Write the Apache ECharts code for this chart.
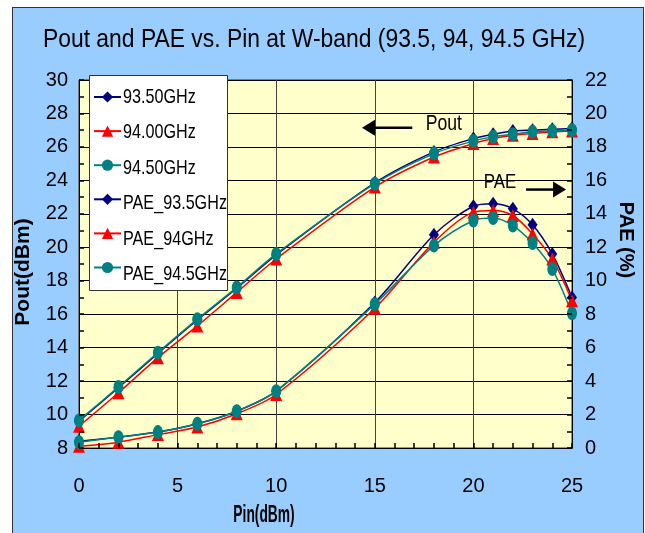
<!DOCTYPE html>
<html><head><meta charset="utf-8">
<script src="https://cdn.jsdelivr.net/npm/echarts@6/dist/echarts.min.js"></script>
<style>
html,body{margin:0;padding:0;background:#fff;}
#wrap{position:relative;width:645px;height:533px;overflow:hidden;}
#frame{position:absolute;left:12px;top:7px;width:630px;height:540px;background:#99CCFF;border:1px solid #333;}
#chart{position:absolute;left:0;top:0;width:645px;height:533px;}
</style></head><body>
<div id="wrap"><div id="frame"></div><div id="chart"></div></div>
<script>
const pin = [0,2,4,6,8,10,15,18,20,21,22,23,24,25];
const pout935 = [9.6,11.6,13.65,15.65,17.55,19.55,23.85,25.7,26.5,26.75,26.95,27.0,27.05,27.1];
const pout940 = [9.3,11.3,13.4,15.3,17.3,19.3,23.6,25.4,26.2,26.5,26.7,26.8,26.9,26.95];
const pout945 = [9.65,11.65,13.7,15.7,17.6,19.6,23.8,25.6,26.35,26.6,26.75,26.9,26.95,27.0];
const pae935 = [0.4,0.65,0.95,1.45,2.2,3.4,8.7,12.75,14.45,14.6,14.3,13.35,11.6,9.0];
const pae940 = [0.1,0.35,0.8,1.25,2.05,3.2,8.35,12.3,14.1,14.2,13.9,12.8,11.3,8.8];
const pae945 = [0.35,0.65,0.95,1.45,2.2,3.4,8.6,12.1,13.6,13.75,13.3,12.25,10.7,8.05];
const seriesNames = ['93.50GHz','94.00GHz','94.50GHz','PAE_93.5GHz','PAE_94GHz','PAE_94.5GHz'];
const titleText = 'Pout and PAE vs. Pin at W-band (93.5, 94, 94.5 GHz)';
const axisNames = {x:'Pin(dBm)', yLeft:'Pout(dBm)', yRight:'PAE (%)'};
const noteLabels = [{label:'Pout', x:18.5, y:27.4, axis:0, size:22},{label:'PAE', x:21.35, y:15.9, axis:1, size:21}];
const noteArrows = [{from:[16.9,27.15], to:[14.35,27.15], axis:0},{from:[22.67,15.45], to:[24.7,15.45], axis:1}];

const REG = "'Liberation Sans',Arial,sans-serif";
const ellipse = 'path://M0,7A5,7 0 1,0 10,7A5,7 0 1,0 0,7Z';
const NAVY='#000080', RED='#FF0000', TEAL='#008080';

function mk(name, vals, color, symbol, size, yAxisIndex){
  return {name, type:'line', yAxisIndex, data: pin.map((x,i)=>[x, vals[i]]),
    smooth:0.3, symbol, symbolSize:size, showSymbol:true, animation:false,
    lineStyle:{color, width:1.5}, itemStyle:{color, borderWidth:0},
    emphasis:{disabled:true}};
}
const chart = echarts.init(document.getElementById('chart'), null, {renderer:'canvas'});
const tickCommon = {show:true, inside:true, length:5, lineStyle:{color:'#000'}};
const minorAxisCommon = {type:'value', z:10, axisLine:{show:false, onZero:false}, axisLabel:{show:false}, splitLine:{show:false},
  axisTick:{show:true, inside:true, length:5, lineStyle:{color:'#000', width:1.5}}, silent:true};
const LEG = {left:93, top:90, itemW:27, itemH:14, gap:21.5};
chart.setOption({
  animation:false,
  backgroundColor:'transparent',
  legend:{orient:'vertical', left:LEG.left, top:LEG.top, padding:0,
    itemWidth:LEG.itemW, itemHeight:LEG.itemH, itemGap:LEG.gap,
    formatter:()=>'', textStyle:{fontSize:1}, selectedMode:false, z:12,
    data:seriesNames},
  grid:{left:79, right:73, top:80, bottom:85, show:true, backgroundColor:'#FFFFCC', borderColor:'#333', borderWidth:1},
  xAxis:[
    {type:'value', min:0, max:25, interval:5,
     axisLine:{show:true, onZero:false, lineStyle:{color:'#000'}},
     axisTick:tickCommon,
     splitLine:{show:true, lineStyle:{color:'#444', width:1}},
     axisLabel:{margin:28, fontFamily:REG, fontSize:20, color:'#000'}},
    Object.assign({min:0, max:25, interval:1, position:'bottom'}, minorAxisCommon)
  ],
  yAxis:[
    {type:'value', min:8, max:30, interval:2,
     axisLine:{show:true, onZero:false, lineStyle:{color:'#000'}},
     axisTick:tickCommon,
     splitLine:{show:true, lineStyle:{color:'#000', width:1}},
     axisLabel:{margin:11, fontFamily:REG, fontSize:20, color:'#000'}},
    {type:'value', min:0, max:22, interval:2, position:'right',
     axisLine:{show:true, onZero:false, lineStyle:{color:'#000'}},
     axisTick:tickCommon,
     splitLine:{show:false},
     axisLabel:{margin:13, fontFamily:REG, fontSize:20, color:'#000'}},
    Object.assign({min:8, max:30, interval:1, position:'left'}, minorAxisCommon),
    Object.assign({min:0, max:22, interval:1, position:'right'}, minorAxisCommon)
  ],
  series:[
    mk(seriesNames[0], pout935, NAVY, 'diamond', [10,14], 0),
    mk(seriesNames[1], pout940, RED, 'triangle', [12,13], 0),
    mk(seriesNames[2], pout945, TEAL, ellipse, [10,14], 0),
    mk(seriesNames[3], pae935, NAVY, 'diamond', [10,14], 1),
    mk(seriesNames[4], pae940, RED, 'triangle', [12,13], 1),
    mk(seriesNames[5], pae945, TEAL, ellipse, [10,14], 1)
  ]
});

function px(axis, pt){ return chart.convertToPixel({xAxisIndex:0, yAxisIndex:axis}, pt); }
const g = [];
g.push({type:'text', x:314, y:40, scaleX:0.915, z:5, style:{text:titleText, fontFamily:REG, fontSize:25, fill:'#000', align:'center', verticalAlign:'middle'}});
g.push({type:'rect', z:11, shape:{x:89.5, y:75.5, width:138, height:215}, style:{fill:'#fff', stroke:'#333', lineWidth:1}});
seriesNames.forEach((n,i)=>{
  const cy = LEG.top + LEG.itemH/2 + i*(LEG.itemH+LEG.gap);
  g.push({type:'text', x:123, y:cy, scaleX:0.77, z:13, style:{text:n, fontFamily:REG, fontSize:21, fill:'#000', align:'left', verticalAlign:'middle'}});
});
noteLabels.forEach(n=>{
  const p = px(n.axis, [n.x, n.y]);
  g.push({type:'text', x:p[0], y:p[1], scaleX:0.8, z:5, style:{text:n.label, fontFamily:REG, fontSize:n.size, fill:'#000', align:'center', verticalAlign:'middle'}});
});
noteArrows.forEach(a=>{
  const f = px(a.axis, a.from), t = px(a.axis, a.to);
  const dir = Math.sign(t[0]-f[0]);
  const headLen = 13, hh = 8;
  const bx = t[0]-dir*headLen;
  g.push({type:'line', z:5, shape:{x1:f[0], y1:f[1], x2:bx, y2:t[1]}, style:{stroke:'#000', lineWidth:2.5}});
  g.push({type:'polygon', z:5, shape:{points:[[t[0],t[1]],[bx,t[1]-hh],[bx,t[1]+hh]]}, style:{fill:'#000'}});
});
g.push({type:'text', x:23, y:272, rotation:Math.PI/2, z:5, style:{text:axisNames.yLeft, fontFamily:REG, fontWeight:'bold', fontSize:21, fill:'#000', align:'center', verticalAlign:'middle'}});
g.push({type:'text', x:626, y:240, rotation:-Math.PI/2, z:5, style:{text:axisNames.yRight, fontFamily:REG, fontWeight:'bold', fontSize:20, fill:'#000', align:'center', verticalAlign:'middle'}});
g.push({type:'text', x:264, y:516, scaleX:0.6, z:5, style:{text:axisNames.x, fontFamily:REG, fontWeight:'bold', fontSize:23, fill:'#000', align:'center', verticalAlign:'middle'}});
chart.setOption({graphic:g});
</script>
</body></html>
